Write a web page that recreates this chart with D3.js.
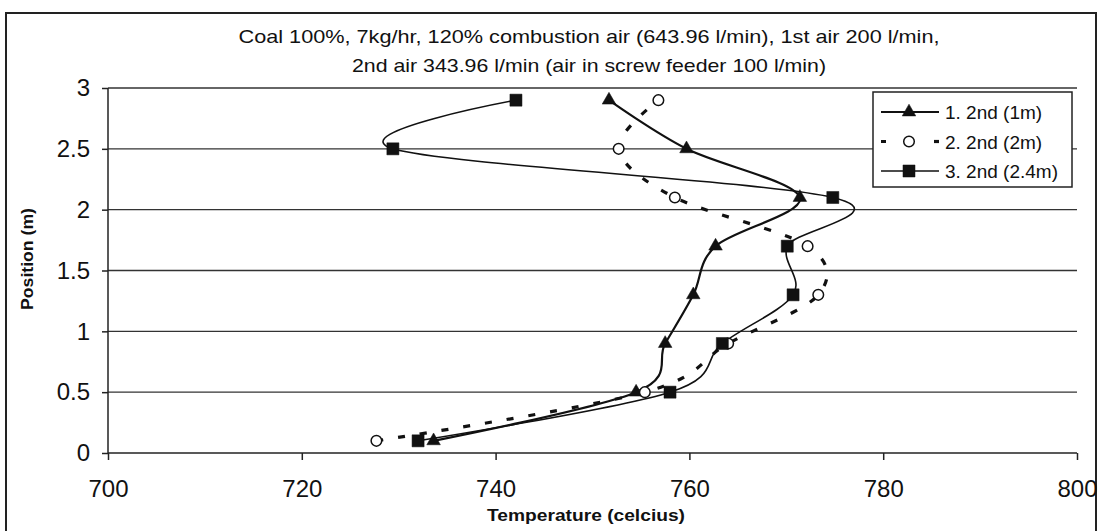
<!DOCTYPE html>
<html><head><meta charset="utf-8">
<script src="https://cdn.jsdelivr.net/npm/d3@7/dist/d3.min.js"></script>
<style>body{margin:0;background:#fff}svg{display:block}</style></head>
<body><svg id="c" width="1102" height="531"></svg>
<script>
// ---- data ----
const positions = [0.1, 0.5, 0.9, 1.3, 1.7, 2.1, 2.5, 2.9];
const s1 = [733.6, 754.5, 757.5, 760.4, 762.7, 771.4, 759.7, 751.7];
const s2 = [727.7, 755.4, 764.0, 773.3, 772.2, 758.5, 752.7, 756.8];
const s3 = [732.0, 758.0, 763.4, 770.7, 770.1, 774.8, 729.4, 742.1];
const seriesNames = ["1. 2nd (1m)", "2. 2nd (2m)", "3. 2nd (2.4m)"];
const xTicks = [700, 720, 740, 760, 780, 800];
const yTicks = [0, 0.5, 1, 1.5, 2, 2.5, 3];
const titleLines = ["Coal 100%, 7kg/hr, 120% combustion air (643.96 l/min), 1st air 200 l/min,",
                    "2nd air 343.96 l/min (air in screw feeder 100 l/min)"];
const xTitle = "Temperature (celcius)";
const yTitle = "Position (m)";

// ---- layout ----
const svg = d3.select("#c");
const L = 108, R = 1077, T = 88, B = 453;
const x = d3.scaleLinear().domain([700, 800]).range([L, R]);
const y = d3.scaleLinear().domain([0, 3]).range([B, T]);
const font = "'Liberation Sans', Arial, sans-serif";

svg.append("rect").attr("x", 6).attr("y", 13).attr("width", 1090).attr("height", 540)
  .attr("fill", "#fff").attr("stroke", "#222").attr("stroke-width", 2);

// gridlines
svg.append("g").selectAll("line").data(yTicks.filter(d => d > 0)).join("line")
  .attr("x1", L).attr("x2", R).attr("y1", d => y(d)).attr("y2", d => y(d))
  .attr("stroke", "#333").attr("stroke-width", 1.3);

// axes
const gx = svg.append("g").attr("transform", `translate(0,${B})`)
  .call(d3.axisBottom(x).tickValues(xTicks).tickSize(7).tickPadding(20).tickFormat(d3.format("d")));
const gy = svg.append("g").attr("transform", `translate(${L},0)`)
  .call(d3.axisLeft(y).tickValues(yTicks).tickSize(6).tickPadding(12).tickFormat(d => String(d)));
[gx, gy].forEach(g => {
  g.select(".domain").attr("stroke", "#222").attr("stroke-width", 1.5);
  g.selectAll(".tick line").attr("stroke", "#222").attr("stroke-width", 1.5);
  g.selectAll("text").attr("font-family", font).attr("font-size", 24).attr("fill", "#111");
});
gx.select(".domain").attr("d", `M${L},0H${R}`);
gy.select(".domain").attr("d", `M0,${T}V${B}`);

// titles
svg.selectAll(".title").data(titleLines).join("text")
  .attr("x", 589).attr("y", (d, i) => 43 + i * 29)
  .attr("text-anchor", "middle").attr("font-family", font)
  .attr("font-size", 19).attr("fill", "#111")
  .attr("textLength", (d, i) => i === 0 ? 701 : 474).attr("lengthAdjust", "spacingAndGlyphs")
  .text(d => d);
svg.append("text").attr("x", 586).attr("y", 521).attr("text-anchor", "middle")
  .attr("font-family", font).attr("font-weight", "bold").attr("font-size", 17).attr("fill", "#111")
  .attr("textLength", 198).attr("lengthAdjust", "spacingAndGlyphs")
  .text(xTitle);
svg.append("text").attr("transform", "translate(33,259) rotate(-90)").attr("text-anchor", "middle")
  .attr("font-family", font).attr("font-weight", "bold").attr("font-size", 17).attr("fill", "#111")
  .attr("textLength", 102).attr("lengthAdjust", "spacingAndGlyphs")
  .text(yTitle);

// series
const series = [
  {name: seriesNames[0], vals: s1, dash: null, width: 2.2, marker: "tri"},
  {name: seriesNames[1], vals: s2, dash: "7,15", width: 3.2, marker: "circ"},
  {name: seriesNames[2], vals: s3, dash: null, width: 1.6, marker: "sq"}
];
const line = d3.line().x(d => x(d[0])).y(d => y(d[1])).curve(d3.curveCardinal.tension(0));
const symFor = m => m === "tri" ? d3.symbolTriangle : m === "sq" ? d3.symbolSquare : d3.symbolCircle;
const sizeFor = m => m === "tri" ? 80 : m === "sq" ? 145 : 88;

series.forEach(s => {
  const pts = s.vals.map((v, i) => [v, positions[i]]);
  svg.append("path").attr("d", line(pts)).attr("fill", "none").attr("stroke", "#111")
    .attr("stroke-width", s.width).attr("stroke-dasharray", s.dash);
});
series.forEach(s => {
  const pts = s.vals.map((v, i) => [v, positions[i]]);
  svg.append("g").selectAll("path").data(pts).join("path")
    .attr("transform", d => `translate(${x(d[0])},${y(d[1])})`)
    .attr("d", d3.symbol().type(symFor(s.marker)).size(sizeFor(s.marker)))
    .attr("fill", s.marker === "circ" ? "#fff" : "#111")
    .attr("stroke", "#111").attr("stroke-width", s.marker === "circ" ? 1.5 : 0.5);
});

// legend
const lg = svg.append("g");
lg.append("rect").attr("x", 873).attr("y", 92).attr("width", 199).attr("height", 95)
  .attr("fill", "#fff").attr("stroke", "#222").attr("stroke-width", 1.5);
series.forEach((s, i) => {
  const ly = 112 + i * 29.5;
  lg.append("line").attr("x1", 881).attr("x2", 939).attr("y1", ly).attr("y2", ly)
    .attr("stroke", "#111").attr("stroke-width", s.width).attr("stroke-dasharray", s.dash ? "5,48" : null);
  if (s.dash) {
    lg.append("line").attr("x1", 934).attr("x2", 939).attr("y1", ly).attr("y2", ly)
      .attr("stroke", "#111").attr("stroke-width", s.width);
  }
  lg.append("path").attr("transform", `translate(909,${ly})`)
    .attr("d", d3.symbol().type(symFor(s.marker)).size(sizeFor(s.marker)))
    .attr("fill", s.marker === "circ" ? "#fff" : "#111").attr("stroke", "#111")
    .attr("stroke-width", s.marker === "circ" ? 1.5 : 0.5);
  lg.append("text").attr("x", 945).attr("y", ly + 7).attr("font-family", font)
    .attr("font-size", 19).attr("fill", "#111").text(s.name);
});
</script></body></html>
